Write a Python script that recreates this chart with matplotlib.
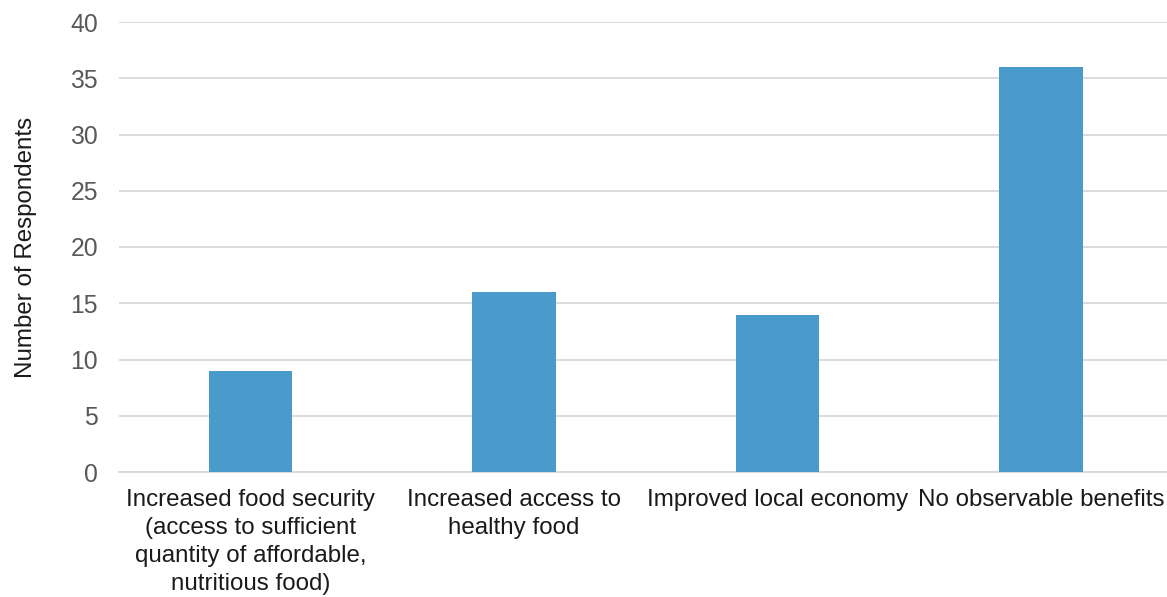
import matplotlib
matplotlib.use('Agg')
import matplotlib.pyplot as plt

# Reported benefits of the programme, counts per category
categories = [
    'Increased food security\n(access to sufficient\nquantity of affordable,\nnutritious food)',
    'Increased access to\nhealthy food',
    'Improved local economy',
    'No observable benefits',
]
respondents = [9, 16, 14, 36]
y_ticks = [0, 5, 10, 15, 20, 25, 30, 35, 40]

plt.rcParams['font.family'] = ['Liberation Sans', 'DejaVu Sans']

fig = plt.figure(figsize=(11.67, 5.97), dpi=100)
ax = fig.add_axes([118.75 / 1167, 1 - 472 / 597, (1172.75 - 118.75) / 1167, (472 - 22) / 597])

x = range(len(categories))
ax.bar(x, respondents, width=0.315, color='#4A9BCB', zorder=3)

ax.set_xlim(-0.5, len(categories) - 0.5)
ax.set_ylim(0, 40)
ax.set_yticks(y_ticks)
ax.set_yticklabels([str(t) for t in y_ticks], fontsize=17.8, color='#595959')
ax.set_xticks(list(x))
ax.set_xticklabels(categories, fontsize=17.4, color='#1a1a1a', linespacing=1.36)

ax.grid(axis='y', color='#D9D9D9', linewidth=1.3, zorder=0)
for side in ['top', 'right', 'left']:
    ax.spines[side].set_visible(False)
ax.spines['bottom'].set_color('#D9D9D9')
ax.spines['bottom'].set_linewidth(1.3)
ax.tick_params(axis='both', length=0)
ax.tick_params(axis='y', pad=15)
ax.tick_params(axis='x', pad=12)

ax.set_ylabel('Number of Respondents', fontsize=17.4, color='#1a1a1a', labelpad=24)

fig.savefig('out.png', dpi=100)
